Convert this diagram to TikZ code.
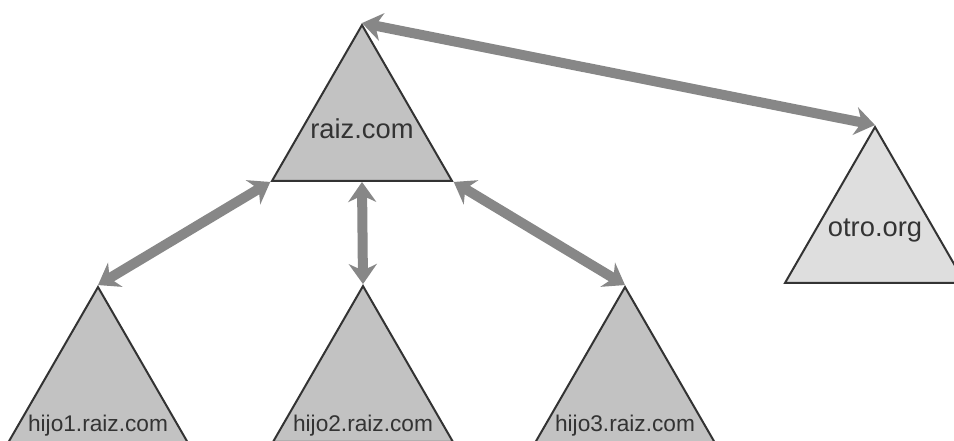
\documentclass[tikz,border=0pt]{standalone}
\usepackage{fontspec}
\setmainfont{Liberation Sans}
\usepackage{tikz}
\usetikzlibrary{arrows.meta,shapes.geometric}
\definecolor{relleno}{gray}{0.76}
\definecolor{rellenoclaro}{gray}{0.87}
\definecolor{flecha}{gray}{0.53}
\definecolor{borde}{gray}{0.2}

\begin{document}
\begin{tikzpicture}[x=0.75pt,y=-0.75pt,
  dominio/.style={regular polygon,regular polygon sides=3,minimum size=155.9pt,
    inner sep=0pt,draw=borde,line width=1.5pt,fill=relleno},
  etiq/.style={inner sep=0pt,text=borde,font=\fontsize{20.5}{24}\selectfont},
  etiqchica/.style={etiq,font=\fontsize{17}{20}\selectfont},
  enlace/.style={draw=flecha,line width=7.5pt,
    {Stealth[length=15pt,width=21pt]}-{Stealth[length=15pt,width=21pt]}}]
  \path[use as bounding box,clip] (0,0) rectangle (954,441);
  % arboles
  \node[dominio] (raiz) at (362,129) {};
  \node[dominio,fill=rellenoclaro] (otro) at (875,231) {};
  \node[dominio] (hijo1) at (98,391) {};
  \node[dominio] (hijo2) at (363,390) {};
  \node[dominio] (hijo3) at (625,391) {};
  \node[etiq] (traiz) at (raiz) {raiz.com};
  \node[etiq] (totro) at (otro) {otro.org};
  \node[etiqchica,anchor=base] (thijo1) at (98,432) {hijo1.raiz.com};
  \node[etiqchica,anchor=base] (thijo2) at (363,432) {hijo2.raiz.com};
  \node[etiqchica,anchor=base] (thijo3) at (625,432) {hijo3.raiz.com};
  % confianzas
  \draw[enlace] (raiz.corner 1) -- (otro.corner 1);
  \draw[enlace] (raiz.corner 2) -- (hijo1.corner 1);
  \draw[enlace] (raiz.side 2) -- (hijo2.corner 1);
  \draw[enlace] (raiz.corner 3) -- (hijo3.corner 1);
\end{tikzpicture}
\end{document}
